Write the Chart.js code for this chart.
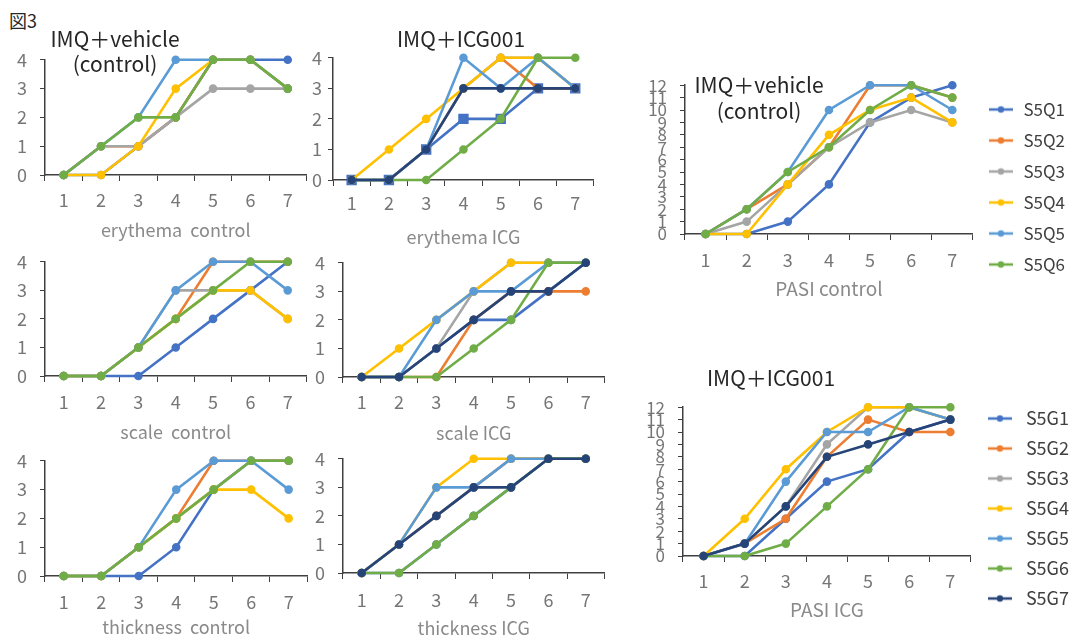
<!DOCTYPE html>
<html>
<head>
<meta charset="utf-8">
<title>図3</title>
<script src="https://cdn.jsdelivr.net/npm/chart.js@4.4.1/dist/chart.umd.min.js"></script>
<style>
  body { margin: 0; background: #fff; }
  #fig { position: relative; width: 1078px; height: 640px; overflow: hidden; font-family: 'Noto Sans CJK JP', sans-serif; }
  #fig canvas { position: absolute; }
  .note { position: absolute; color: #262626; font-size: 21px; line-height: 25px; text-align: center; white-space: nowrap; z-index: 2; }
</style>
</head>
<body>
<div id="fig">
  <div class="note" style="left:9px; top:8px; font-size:18px; text-align:left;">図3</div>
  <div class="note" style="left:40px; top:26px; width:150px;">IMQ＋vehicle<br>(control)</div>
  <div class="note" style="left:386px; top:26px; width:150px;">IMQ＋ICG001</div>
  <div class="note" style="left:684px; top:71px; width:150px; line-height:26px;">IMQ＋vehicle<br>(control)</div>
  <div class="note" style="left:696px; top:365px; width:150px;">IMQ＋ICG001</div>
</div>
<script>
// days on the x axis, score / PASI ticks on the y axis
const days = ['1', '2', '3', '4', '5', '6', '7'];
const scoreTicks = [0, 1, 2, 3, 4];
const pasiTicks = [0, 1, 2, 3, 4, 5, 6, 7, 8, 9, 10, 11, 12];

const controlMice = ['S5Q1', 'S5Q2', 'S5Q3', 'S5Q4', 'S5Q5', 'S5Q6'];
const icgMice = ['S5G1', 'S5G2', 'S5G3', 'S5G4', 'S5G5', 'S5G6', 'S5G7'];

// one row per mouse, in the order of the names above
const erythemaControl = [
    [0, 0, 1, 2, 4, 4, 4],
    [0, 1, 1, 2, 4, 4, 3],
    [0, 1, 1, 2, 3, 3, 3],
    [0, 0, 1, 3, 4, 4, 3],
    [0, 1, 2, 4, 4, 4, 3],
    [0, 1, 2, 2, 4, 4, 3]
];
const erythemaICG = [
    [0, 0, 1, 2, 2, 3, 3],
    [0, 0, 1, 3, 4, 3, 3],
    [0, 0, 1, 3, 4, 4, 3],
    [0, 1, 2, 3, 4, 4, 3],
    [0, 0, 1, 4, 3, 4, 3],
    [0, 0, 0, 1, 2, 4, 4],
    [0, 0, 1, 3, 3, 3, 3]
];
const scaleControl = [
    [0, 0, 0, 1, 2, 3, 4],
    [0, 0, 1, 2, 4, 4, 4],
    [0, 0, 1, 3, 3, 3, 2],
    [0, 0, 1, 2, 3, 3, 2],
    [0, 0, 1, 3, 4, 4, 3],
    [0, 0, 1, 2, 3, 4, 4]
];
const scaleICG = [
    [0, 0, 1, 2, 2, 3, 4],
    [0, 0, 0, 2, 3, 3, 3],
    [0, 0, 1, 3, 4, 4, 4],
    [0, 1, 2, 3, 4, 4, 4],
    [0, 0, 2, 3, 3, 4, 4],
    [0, 0, 0, 1, 2, 4, 4],
    [0, 0, 1, 2, 3, 3, 4]
];
const thicknessControl = [
    [0, 0, 0, 1, 3, 4, 4],
    [0, 0, 1, 2, 4, 4, 4],
    [0, 0, 1, 2, 3, 4, 4],
    [0, 0, 1, 2, 3, 3, 2],
    [0, 0, 1, 3, 4, 4, 3],
    [0, 0, 1, 2, 3, 4, 4]
];
const thicknessICG = [
    [0, 0, 1, 2, 3, 4, 4],
    [0, 1, 2, 3, 4, 4, 4],
    [0, 1, 2, 3, 4, 4, 4],
    [0, 1, 3, 4, 4, 4, 4],
    [0, 1, 3, 3, 4, 4, 4],
    [0, 0, 1, 2, 3, 4, 4],
    [0, 1, 2, 3, 3, 4, 4]
];
const pasiControl = [
    [0, 0, 1, 4, 9, 11, 12],
    [0, 2, 4, 7, 12, 12, 11],
    [0, 1, 4, 7, 9, 10, 9],
    [0, 0, 4, 8, 10, 11, 9],
    [0, 2, 5, 10, 12, 12, 10],
    [0, 2, 5, 7, 10, 12, 11]
];
const pasiICG = [
    [0, 0, 3, 6, 7, 10, 11],
    [0, 1, 3, 8, 11, 10, 10],
    [0, 1, 4, 9, 12, 12, 11],
    [0, 3, 7, 10, 12, 12, 11],
    [0, 1, 6, 10, 10, 12, 11],
    [0, 0, 1, 4, 7, 12, 12],
    [0, 1, 4, 8, 9, 10, 11]
];

const palette = ['#4472C4', '#ED7D31', '#A5A5A5', '#FFC000', '#5B9BD5', '#70AD47', '#264478'];
const axisColor = '#404040';
const tickColor = '#767676';
const titleColor = '#8a8a8a';
const YW = 50;   // width given to every y axis
const PT = 12;   // space above each plot

Chart.defaults.font.family = "'Noto Sans CJK JP', 'Noto Sans', sans-serif";

// plot boxes measured on the figure
const panels = [
    { names: controlMice, data: erythemaControl, ticks: scoreTicks, title: 'erythema  control',
      left: 45, right: 310, top: 48, bottom: 175, yPad: 13, xPad: 8, titleGap: 55 },
    { names: icgMice, data: erythemaICG, ticks: scoreTicks, title: 'erythema ICG', squares: [0],
      left: 333, right: 600, top: 53, bottom: 180, yPad: 6, xPad: 6, titleGap: 57 },
    { names: controlMice, data: scaleControl, ticks: scoreTicks, title: 'scale  control',
      left: 45, right: 310, top: 250, bottom: 376, yPad: 13, xPad: 9, titleGap: 56 },
    { names: icgMice, data: scaleICG, ticks: scoreTicks, title: 'scale ICG',
      left: 343, right: 608, top: 251, bottom: 377, yPad: 13, xPad: 8, titleGap: 56 },
    { names: controlMice, data: thicknessControl, ticks: scoreTicks, title: 'thickness  control',
      left: 45, right: 311, top: 449, bottom: 576, yPad: 13, xPad: 9, titleGap: 51 },
    { names: icgMice, data: thicknessICG, ticks: scoreTicks, title: 'thickness ICG',
      left: 343, right: 608, top: 447, bottom: 573, yPad: 13, xPad: 10, titleGap: 55 },
    { names: controlMice, data: pasiControl, ticks: pasiTicks, title: 'PASI control', tickSize: 17, titleSize: 19,
      left: 685, right: 973, top: 74, bottom: 234, yPad: 13, xPad: 9, titleGap: 55,
      legend: { gap: 14, box: 28, size: 17 } },
    { names: icgMice, data: pasiICG, ticks: pasiTicks, title: 'PASI ICG', tickSize: 17, titleSize: 19,
      left: 683, right: 971, top: 396, bottom: 556, yPad: 13, xPad: 8, titleGap: 54,
      legend: { gap: 12, box: 34, size: 18 } }
];

// short line with a dot, like the office legend key
function legendIcon(color) {
    const c = document.createElement('canvas');
    c.width = 24;
    c.height = 10;
    const g = c.getContext('2d');
    g.strokeStyle = color;
    g.lineWidth = 2.5;
    g.beginPath();
    g.moveTo(0, 5);
    g.lineTo(24, 5);
    g.stroke();
    g.fillStyle = color;
    g.beginPath();
    g.arc(12, 5, 3.2, 0, Math.PI * 2);
    g.fill();
    return c;
}

function legendWidth(p) {
    const g = document.createElement('canvas').getContext('2d');
    g.font = p.legend.size + "px 'Noto Sans CJK JP', 'Noto Sans', sans-serif";
    const textW = Math.max(...p.names.map(n => g.measureText(n).width));
    return p.legend.gap + p.legend.box + p.legend.size / 2 + textW + 10;
}

const fig = document.getElementById('fig');

panels.forEach(p => {
    const titleSize = p.titleSize || 18;
    const xh = Math.round(p.titleGap + titleSize * 0.6);
    const w = YW + (p.right - p.left) + (p.legend ? legendWidth(p) : 2);
    const h = PT + (p.bottom - p.top) + xh;

    const canvas = document.createElement('canvas');
    canvas.width = Math.round(w);
    canvas.height = h;
    canvas.style.left = (p.left - YW) + 'px';
    canvas.style.top = (p.top - PT) + 'px';
    fig.appendChild(canvas);

    const datasets = p.names.map((name, i) => {
        const square = p.squares && p.squares.includes(i);
        return {
            label: name,
            data: p.data[i],
            borderColor: palette[i],
            backgroundColor: palette[i],
            pointBackgroundColor: palette[i],
            pointBorderColor: palette[i],
            borderWidth: 2.6,
            pointStyle: square ? 'rect' : 'circle',
            pointRadius: square ? 5.5 : 3,
            pointHoverRadius: square ? 5.5 : 3,
            tension: 0,
            clip: false,
            order: -i   // later mice drawn on top, as in the original
        };
    });

    new Chart(canvas, {
        type: 'line',
        data: { labels: days, datasets: datasets },
        options: {
            responsive: false,
            animation: false,
            devicePixelRatio: 1,
            events: [],
            layout: { padding: { top: PT, right: p.legend ? 0 : 2, bottom: 0, left: 0 } },
            plugins: {
                tooltip: { enabled: false },
                legend: {
                    display: !!p.legend,
                    position: 'right',
                    align: 'center',
                    labels: p.legend ? {
                        usePointStyle: true,
                        pointStyleWidth: p.legend.box,
                        padding: p.legend.gap,
                        color: axisColor,
                        font: { size: p.legend.size },
                        sort: (a, b) => a.datasetIndex - b.datasetIndex,
                        generateLabels: chart => Chart.defaults.plugins.legend.labels.generateLabels(chart)
                            .map(item => Object.assign(item, { pointStyle: legendIcon(palette[item.datasetIndex]) }))
                    } : {}
                }
            },
            scales: {
                x: {
                    offset: true,
                    grid: { offset: true, drawOnChartArea: false, color: axisColor, tickLength: 6 },
                    border: { color: axisColor, width: 1.5 },
                    ticks: { color: tickColor, font: { size: 18 }, padding: p.xPad, autoSkip: false, maxRotation: 0 },
                    title: { display: true, text: p.title, color: titleColor, font: { size: titleSize }, padding: 0 },
                    afterFit: s => { s.height = xh; }
                },
                y: {
                    min: p.ticks[0],
                    max: p.ticks[p.ticks.length - 1],
                    grid: { drawOnChartArea: false, color: axisColor, tickLength: 5 },
                    border: { color: axisColor, width: 1.5 },
                    ticks: {
                        stepSize: p.ticks[1] - p.ticks[0],
                        autoSkip: false,
                        color: tickColor,
                        font: { size: p.tickSize || 18 },
                        padding: p.yPad
                    },
                    afterFit: s => { s.width = YW; }
                }
            }
        }
    });
});
</script>
</body>
</html>
